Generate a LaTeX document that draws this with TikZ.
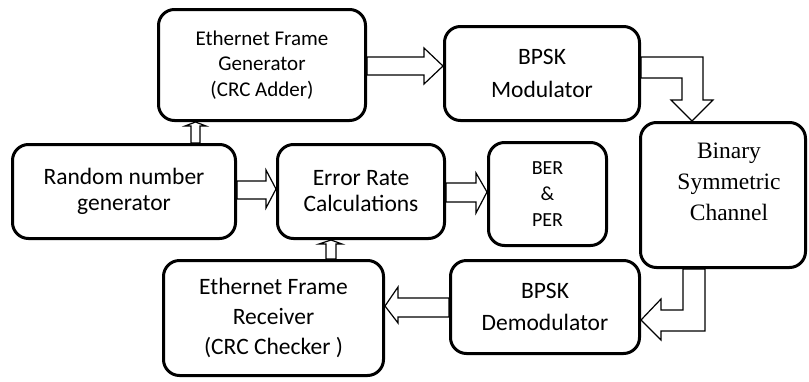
\documentclass[tikz,border=0pt]{standalone}
\usepackage{fontspec}
\setmainfont{Carlito}
\newfontfamily\tnrfont{Liberation Serif}
\usetikzlibrary{backgrounds}
\begin{document}
\begin{tikzpicture}[x=1pt,y=-1pt,
  blk/.style={draw, line width=3pt, rounded corners=16pt, fill=white, align=center, inner sep=0pt},
  barrow/.style={draw, line width=1.2pt, fill=white, line join=miter}]
\useasboundingbox (0,0) rectangle (809,381);
% boxes
\node[blk, minimum width=207pt, minimum height=111pt, font=\fontsize{21}{25.5}\selectfont] (gen) at (262,65) {Ethernet Frame\\Generator\\(CRC Adder)};
\node[blk, minimum width=195pt, minimum height=94pt, font=\fontsize{23.5}{32.5}\selectfont] (mod) at (542,73.5) {BPSK\\Modulator};
\node[blk, minimum width=165pt, minimum height=145pt] (chan) at (723,195) {};
\node[align=center, inner sep=0pt, font=\tnrfont\fontsize{23.5}{31}\selectfont] (chantext) at (729,182) {Binary\\Symmetric\\Channel};
\node[blk, minimum width=223pt, minimum height=94pt, font=\fontsize{23.5}{26}\selectfont] (rand) at (124,191.5) {Random number\\generator};
\node[blk, minimum width=167pt, minimum height=94pt, font=\fontsize{23.5}{26}\selectfont] (err) at (361,191.5) {Error Rate\\Calculations};
\node[blk, minimum width=118pt, minimum height=103pt, font=\fontsize{20}{26}\selectfont] (ber) at (547.5,194) {BER\\\&\\PER};
\node[blk, minimum width=220pt, minimum height=115pt, font=\fontsize{23.5}{30}\selectfont] (recv) at (273.5,318) {Ethernet Frame\\Receiver\\(CRC Checker )};
\node[blk, minimum width=189pt, minimum height=93pt, font=\fontsize{23.5}{32.5}\selectfont] (demod) at (545,307) {BPSK\\Demodulator};
% block arrows
\begin{scope}[on background layer]
\draw[barrow] (191,0 |- rand.north) -- (191,126) -- (185,126) -- (195.5,0 |- gen.south) -- (206,126) -- (200,126) -- (200,0 |- rand.north) -- cycle;
\draw[barrow] (gen.east |- 0,57) -- (424,57) -- (424,48) -- (mod.west |- 0,66) -- (424,84) -- (424,75) -- (gen.east |- 0,75) -- cycle;
\draw[barrow] (mod.east |- 0,57) -- (703,57) -- (703,100) -- (713,100) -- (692,0 |- chan.north) -- (671,100) -- (682,100) -- (682,78) -- (mod.east |- 0,78) -- cycle;
\draw[barrow] (rand.east |- 0,181) -- (266,181) -- (266,170) -- (err.west |- 0,189) -- (266,208) -- (266,199) -- (rand.east |- 0,199) -- cycle;
\draw[barrow] (err.east |- 0,183) -- (476,183) -- (476,173) -- (ber.west |- 0,192) -- (476,213) -- (476,202) -- (err.east |- 0,202) -- cycle;
\draw[barrow] (326,0 |- recv.north) -- (326,244) -- (319,244) -- (331,0 |- err.south) -- (342,244) -- (336,244) -- (336,0 |- recv.north) -- cycle;
\draw[barrow] (683,0 |- chan.south) -- (683,310) -- (661,310) -- (661,299) -- (demod.east |- 0,320) -- (661,340) -- (661,331) -- (705,331) -- (705,0 |- chan.south) -- cycle;
\draw[barrow] (demod.west |- 0,298) -- (398,298) -- (398,287) -- (recv.east |- 0,306) -- (398,323) -- (398,317) -- (demod.west |- 0,317) -- cycle;
\end{scope}
\end{tikzpicture}
\end{document}
